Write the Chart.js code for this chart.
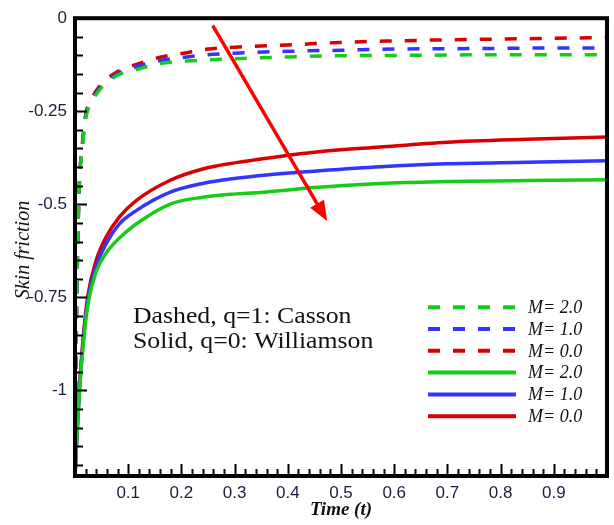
<!DOCTYPE html>
<html>
<head>
<meta charset="utf-8">
<script src="https://cdn.jsdelivr.net/npm/chart.js@4.4.1/dist/chart.umd.min.js"></script>
<style>
html, body { margin: 0; padding: 0; background: #fff; }
#wrap { width: 614px; height: 525px; }
</style>
</head>
<body>
<div id="wrap"><canvas id="skin-chart"></canvas></div>
<script>
// time values
const tDashed = [0, 0.002, 0.004, 0.008, 0.013, 0.02, 0.03, 0.045, 0.075, 0.12, 0.16, 0.21, 0.25, 0.3, 0.4, 0.5, 0.6, 0.7, 0.8, 0.9, 1.0];
const tSolid = [0, 0.004, 0.0085, 0.015, 0.024, 0.04, 0.059, 0.084, 0.115, 0.178, 0.24, 0.303, 0.36, 0.45, 0.574, 0.7, 0.85, 1.0];

// Casson (dashed, q=1)
const cassonM2 = [-1.21, -0.9, -0.69, -0.45, -0.36, -0.27, -0.23, -0.195, -0.157, -0.136, -0.122, -0.115, -0.112, -0.109, -0.104, -0.101, -0.100, -0.099, -0.098, -0.098, -0.098];
const cassonM1 = [-1.21, -0.9, -0.69, -0.45, -0.355, -0.265, -0.225, -0.19, -0.153, -0.128, -0.114, -0.104, -0.098, -0.094, -0.089, -0.086, -0.083, -0.082, -0.081, -0.080, -0.080];
const cassonM0 = [-1.21, -0.9, -0.69, -0.45, -0.35, -0.26, -0.22, -0.185, -0.148, -0.122, -0.105, -0.093, -0.083, -0.078, -0.072, -0.065, -0.061, -0.058, -0.056, -0.054, -0.052];

// Williamson (solid, q=0)
const williamsonM2 = [-1.23, -1.115, -1.0, -0.885, -0.772, -0.68, -0.63, -0.59, -0.553, -0.5, -0.481, -0.472, -0.467, -0.455, -0.444, -0.439, -0.436, -0.434];
const williamsonM1 = [-1.23, -1.11, -0.995, -0.875, -0.76, -0.665, -0.605, -0.552, -0.517, -0.468, -0.444, -0.43, -0.421, -0.411, -0.399, -0.391, -0.387, -0.383];
const williamsonM0 = [-1.23, -1.105, -0.987, -0.864, -0.747, -0.65, -0.587, -0.533, -0.49, -0.436, -0.405, -0.388, -0.376, -0.36, -0.346, -0.333, -0.325, -0.319];

const xTickLabels = [0.1, 0.2, 0.3, 0.4, 0.5, 0.6, 0.7, 0.8, 0.9];
const yTickLabels = [0, -0.25, -0.5, -0.75, -1];

// red arrow, in data units
const arrowFrom = { x: 0.259, y: -0.02 };
const arrowTo = { x: 0.474, y: -0.545 };

const RED = '#d80000', BLUE = '#3434ff', GREEN = '#16cc16';
const DASH = [12, 13];

function pts(ts, vs) {
    return ts.map(function (t, i) { return { x: t, y: vs[i] }; });
}

function series(label, ts, vs, color, dashed) {
    return {
        label: label,
        data: pts(ts, vs),
        borderColor: color,
        borderWidth: 3.5,
        borderDash: dashed ? DASH : [],
        pointRadius: 0,
        fill: false,
        cubicInterpolationMode: 'monotone'
    };
}

// frame, inward ticks, arrow, notes, legend and axis titles
const decor = {
    id: 'decor',
    afterDatasetsDraw: function (chart) {
        const ctx = chart.ctx, ca = chart.chartArea;
        const xs = chart.scales.x, ys = chart.scales.y;
        ctx.save();

        // ticks pointing into the plot
        ctx.strokeStyle = '#000';
        ctx.lineWidth = 2;
        ctx.beginPath();
        for (let i = 1; i < 50; i++) {
            const px = Math.round(xs.getPixelForValue(i * 0.02)) + 0.5;
            const len = i % 5 === 0 ? 12 : 7;
            ctx.moveTo(px, ca.bottom); ctx.lineTo(px, ca.bottom - len);
        }
        for (let i = 1; i * 0.05 < 1.23; i++) {
            const py = Math.round(ys.getPixelForValue(-i * 0.05)) + 0.5;
            const len = i % 5 === 0 ? 12 : 8;
            ctx.moveTo(ca.left, py); ctx.lineTo(ca.left + len, py);
        }
        ctx.stroke();

        // frame
        ctx.lineWidth = 4;
        ctx.strokeRect(ca.left, ca.top, ca.right - ca.left, ca.bottom - ca.top);

        // arrow
        const ax0 = xs.getPixelForValue(arrowFrom.x), ay0 = ys.getPixelForValue(arrowFrom.y);
        const ax1 = xs.getPixelForValue(arrowTo.x), ay1 = ys.getPixelForValue(arrowTo.y);
        const ang = Math.atan2(ay1 - ay0, ax1 - ax0);
        const hl = 20, hw = 8;
        ctx.strokeStyle = '#ff0000';
        ctx.fillStyle = '#ff0000';
        ctx.lineWidth = 3.5;
        ctx.beginPath();
        ctx.moveTo(ax0, ay0);
        ctx.lineTo(ax1 - hl * 0.8 * Math.cos(ang), ay1 - hl * 0.8 * Math.sin(ang));
        ctx.stroke();
        ctx.beginPath();
        ctx.moveTo(ax1, ay1);
        ctx.lineTo(ax1 - hl * Math.cos(ang) + hw * Math.sin(ang), ay1 - hl * Math.sin(ang) - hw * Math.cos(ang));
        ctx.lineTo(ax1 - hl * Math.cos(ang) - hw * Math.sin(ang), ay1 - hl * Math.sin(ang) + hw * Math.cos(ang));
        ctx.closePath();
        ctx.fill();

        // notes
        ctx.fillStyle = '#111';
        ctx.textBaseline = 'alphabetic';
        ctx.textAlign = 'left';
        ctx.font = '23px "Liberation Serif", "Times New Roman", serif';
        ctx.save();
        ctx.translate(ca.left + 58, 0);
        ctx.scale(1.12, 1);
        ctx.fillText('Dashed, q=1: Casson', 0, ca.top + 305);
        ctx.fillText('Solid, q=0: Williamson', 0, ca.top + 330);
        ctx.restore();

        // legend
        const lx = ca.right - 179, ly = ca.top + 289, step = 21.8;
        ctx.font = 'italic 18px "Liberation Serif", "Times New Roman", serif';
        ctx.textBaseline = 'middle';
        chart.data.datasets.forEach(function (ds, i) {
            const y = ly + i * step;
            ctx.strokeStyle = ds.borderColor;
            ctx.lineWidth = 4;
            ctx.setLineDash(ds.borderDash);
            ctx.beginPath();
            ctx.moveTo(lx, y); ctx.lineTo(lx + 88, y);
            ctx.stroke();
            ctx.setLineDash([]);
            ctx.fillStyle = '#111';
            ctx.fillText(ds.label, lx + 100, y + 1);
        });

        // axis titles
        ctx.fillStyle = '#111';
        ctx.textAlign = 'center';
        ctx.font = 'bold italic 19px "Liberation Serif", "Times New Roman", serif';
        ctx.fillText('Time (t)', (ca.left + ca.right) / 2, 510);
        ctx.save();
        ctx.translate(24, 250);
        ctx.rotate(-Math.PI / 2);
        ctx.font = 'italic 20px "Liberation Serif", "Times New Roman", serif';
        ctx.fillText('Skin friction', 0, 0);
        ctx.restore();

        ctx.restore();
    }
};

new Chart(document.getElementById('skin-chart'), {
    type: 'line',
    data: {
        datasets: [
            series('M= 2.0', tDashed, cassonM2, GREEN, true),
            series('M= 1.0', tDashed, cassonM1, BLUE, true),
            series('M= 0.0', tDashed, cassonM0, RED, true),
            series('M= 2.0', tSolid, williamsonM2, GREEN, false),
            series('M= 1.0', tSolid, williamsonM1, BLUE, false),
            series('M= 0.0', tSolid, williamsonM0, RED, false)
        ]
    },
    options: {
        responsive: true,
        maintainAspectRatio: false,
        animation: false,
        layout: { padding: { left: 0, top: 13, right: 7, bottom: 0 } },
        plugins: {
            legend: { display: false },
            tooltip: { enabled: false }
        },
        scales: {
            x: {
                type: 'linear',
                min: 0,
                max: 1,
                grid: { display: false, drawTicks: false },
                border: { display: false },
                afterBuildTicks: function (scale) {
                    scale.ticks = xTickLabels.map(function (v) { return { value: v }; });
                },
                afterFit: function (scale) { scale.height = 49; },
                ticks: {
                    autoSkip: false,
                    maxRotation: 0,
                    padding: 7,
                    color: '#1c1c3c',
                    font: { family: '"Liberation Sans", Arial, sans-serif', size: 17 },
                    callback: function (v) { return String(v); }
                }
            },
            y: {
                min: -1.23,
                max: 0,
                grid: { display: false, drawTicks: false },
                border: { display: false },
                afterBuildTicks: function (scale) {
                    scale.ticks = yTickLabels.map(function (v) { return { value: v }; });
                },
                afterFit: function (scale) { scale.width = 75; },
                ticks: {
                    autoSkip: false,
                    padding: 8,
                    color: '#1c1c3c',
                    font: { family: '"Liberation Sans", Arial, sans-serif', size: 17 },
                    callback: function (v) { return String(v); }
                }
            }
        }
    },
    plugins: [decor]
});
</script>
</body>
</html>
